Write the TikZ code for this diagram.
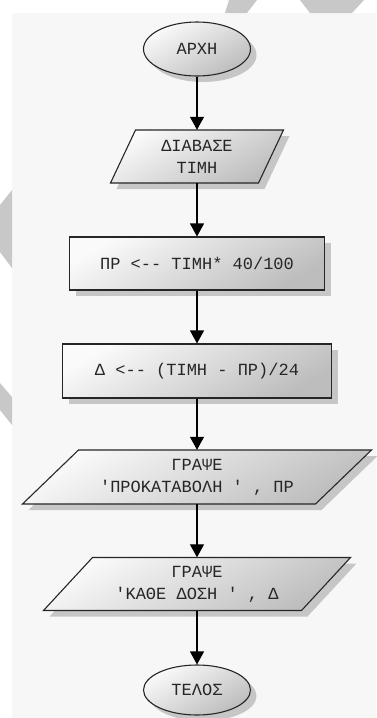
\documentclass[tikz,border=0pt]{standalone}
\usepackage{fontspec}
\setmonofont{Liberation Mono}
\usetikzlibrary{arrows.meta,shapes.geometric,shadows}
\definecolor{panel}{HTML}{F7F7F7}
\definecolor{shadowc}{HTML}{C6C6C6}
\definecolor{wm}{HTML}{C8C8C8}
\tikzset{
  lbl/.style={font=\ttfamily\fontsize{17}{22}\selectfont, text=black!85, align=center, inner sep=0pt},
  shapefill/.style={top color=black!2, bottom color=black!26, shading angle=30},
  outline/.style={draw=black!85, line width=1.1pt},
  shad/.style={drop shadow={shadow xshift=6pt, shadow yshift=-6pt, fill=shadowc, opacity=1}},
  conn/.style={-{Triangle[length=13pt,width=14pt]}, line width=1.2pt, draw=black},
}
% name, cx, cy, body width, height, slant, text
\newcommand\flowpara[7]{%
  \fill[shadowc] (#2-#4/2+#6/2+6,#3-#5/2+6) -- (#2+#4/2+#6/2+6,#3-#5/2+6)
     -- (#2+#4/2-#6/2+6,#3+#5/2+6) -- (#2-#4/2-#6/2+6,#3+#5/2+6) -- cycle;
  \path[shapefill, outline] (#2-#4/2+#6/2,#3-#5/2) -- (#2+#4/2+#6/2,#3-#5/2)
     -- (#2+#4/2-#6/2,#3+#5/2) -- (#2-#4/2-#6/2,#3+#5/2) -- cycle;
  \node[lbl, minimum width=#4, minimum height=#5] (#1) at (#2,#3) {#7};
}
\begin{document}
\begin{tikzpicture}[x=1pt,y=-1pt]
\useasboundingbox (0,0) rectangle (376,718);
\fill[white] (0,0) rectangle (376,718);
\fill[panel] (12,13) rectangle (376,718);
% watermark fragments in the margins
\fill[wm] (229,0) -- (257,0) -- (247,13) -- (225,13) -- cycle;
\fill[wm] (300,0) -- (364,0) -- (352,13) -- (310,13) -- cycle;
\fill[wm] (0,205) -- (12,190) -- (12,268) -- (0,252) -- cycle;
\fill[wm] (0,383) -- (12,397) -- (12,425) -- (0,410) -- cycle;

\node[lbl, ellipse, minimum width=107, minimum height=54, shapefill, outline, shad] (start) at (197,49) {ΑΡΧΗ};
\flowpara{read}{197}{156.5}{148}{53}{25}{ΔΙΑΒΑΣΕ\\ΤΙΜΗ}
\node[lbl, rectangle, minimum width=255, minimum height=53, shapefill, outline, shad] (p1) at (197,263.5) {ΠΡ <-- ΤΙΜΗ* 40/100};
\node[lbl, rectangle, minimum width=269, minimum height=54, shapefill, outline, shad] (p2) at (197,371) {Δ <-- (ΤΙΜΗ - ΠΡ)/24};
\flowpara{out1}{197}{477}{293}{54}{56}{ΓΡΑΨΕ\\'ΠΡΟΚΑΤΑΒΟΛΗ ' , ΠΡ}
\flowpara{out2}{197}{584}{258}{53}{49}{ΓΡΑΨΕ\\'ΚΑΘΕ ΔΟΣΗ ' , Δ}
\node[lbl, ellipse, minimum width=107, minimum height=50, shapefill, outline, shad] (stop) at (197,690) {ΤΕΛΟΣ};

\draw[conn] (start.south) -- (read.north);
\draw[conn] (read.south) -- (p1.north);
\draw[conn] (p1.south) -- (p2.north);
\draw[conn] (p2.south) -- (out1.north);
\draw[conn] (out1.south) -- (out2.north);
\draw[conn] (out2.south) -- (stop.north);
\end{tikzpicture}
\end{document}
